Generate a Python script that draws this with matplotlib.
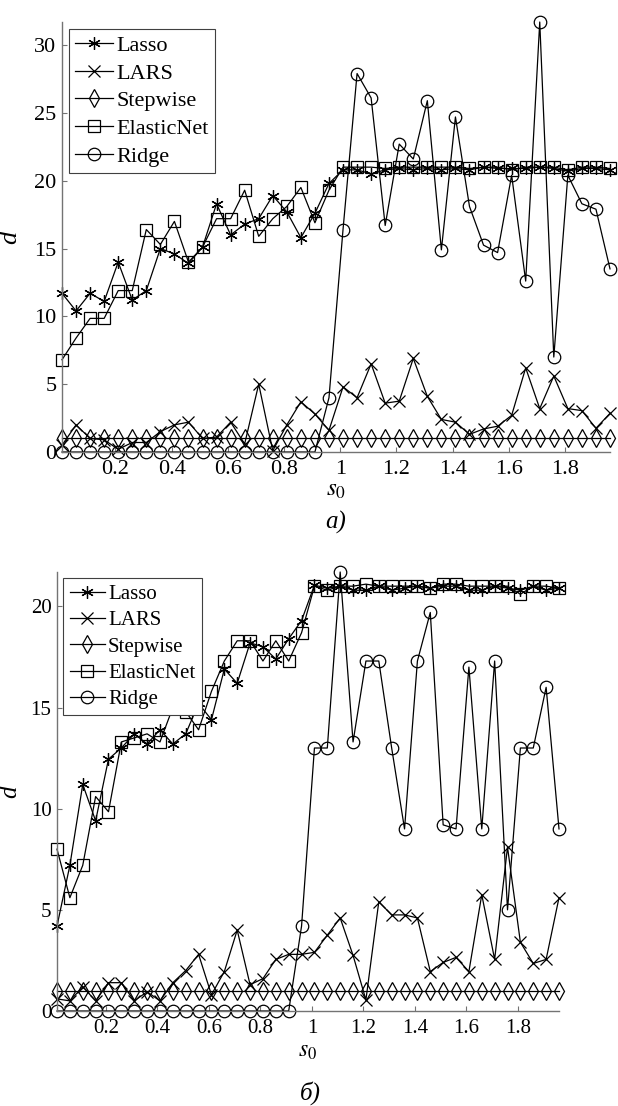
import numpy as np
import matplotlib
matplotlib.use("Agg")
import matplotlib.pyplot as plt

plt.rcParams['font.family'] = ['Liberation Serif', 'DejaVu Serif']
plt.rcParams['mathtext.fontset'] = 'stix'

# s0 grid: 0.01, 0.06, ..., 1.96
s0 = np.round(np.arange(0.01, 2.0, 0.05), 2)

names = ["Lasso", "LARS", "Stepwise", "ElasticNet", "Ridge"]

# panel a)
lasso_a = [11.7, 10.4, 11.7, 11.1, 14.0, 11.2, 11.9, 15.0, 14.6, 13.9,
           15.1, 18.3, 16.0, 16.8, 17.2, 18.9, 17.7, 15.8, 17.6, 19.8,
           20.8, 20.8, 20.5, 20.8, 20.9, 20.8, 20.9, 20.8, 20.9, 20.8,
           21.0, 20.9, 20.9, 20.9, 21.0, 20.9, 20.7, 20.9, 20.9, 20.8]
lars_a = [0.5, 2.0, 1.0, 0.9, 0.2, 0.7, 0.7, 1.5, 2.0, 2.2,
          1.0, 1.1, 2.2, 0.6, 5.0, 0.1, 2.0, 3.7, 2.8, 1.6,
          4.8, 4.0, 6.5, 3.6, 3.75, 6.9, 4.1, 2.4, 2.2, 1.3,
          1.7, 1.9, 2.7, 6.2, 3.2, 5.6, 3.2, 3.05, 1.75, 2.85]
stepwise_a = [1, 1, 1, 1, 1, 1, 1, 1, 1, 1,
              1, 1, 1, 1, 1, 1, 1, 1, 1, 1,
              1, 1, 1, 1, 1, 1, 1, 1, 1, 1,
              1, 1, 1, 1, 1, 1, 1, 1, 1, 1]
elastic_a = [6.8, 8.4, 9.85, 9.85, 11.9, 11.9, 16.4, 15.3, 17.0, 14.0,
             15.1, 17.2, 17.2, 19.3, 15.9, 17.2, 18.1, 19.5, 16.9, 19.3,
             21.0, 21.0, 21.0, 20.9, 21.0, 21.0, 21.0, 21.0, 21.0, 20.9,
             21.0, 21.0, 20.8, 21.0, 21.0, 21.0, 20.8, 21.0, 21.0, 20.9]
ridge_a = [0, 0, 0, 0, 0, 0, 0, 0, 0, 0,
           0, 0, 0, 0, 0, 0, 0, 0, 0, 4.0,
           16.4, 27.9, 26.1, 16.7, 22.7, 21.6, 25.9, 14.9, 24.7, 18.1,
           15.25, 14.7, 20.4, 12.6, 31.7, 7.0, 20.4, 18.3, 17.9, 13.5]

# panel б)
lasso_b = [4.2, 7.2, 11.2, 9.4, 12.45, 13.0, 13.7, 13.2, 13.9, 13.2,
           13.7, 15.2, 14.4, 16.9, 16.2, 18.2, 18.0, 17.4, 18.4, 19.3,
           21.05, 20.9, 21.0, 20.8, 20.8, 21.0, 20.8, 20.9, 21.0, 20.9,
           21.0, 21.0, 20.8, 20.8, 21.0, 20.9, 20.8, 21.0, 20.8, 20.9]
lars_b = [0.6, 0.5, 1.2, 0.5, 1.4, 1.4, 0.5, 0.95, 0.5, 1.4,
          2.0, 2.8, 0.8, 1.95, 4.0, 1.3, 1.6, 2.55, 2.8, 2.8,
          2.9, 3.75, 4.6, 2.75, 0.55, 5.4, 4.75, 4.75, 4.6, 1.95,
          2.4, 2.65, 1.95, 5.75, 2.55, 8.1, 3.4, 2.35, 2.55, 5.6]
stepwise_b = [1, 1, 1, 1, 1, 1, 1, 1, 1, 1,
              1, 1, 1, 1, 1, 1, 1, 1, 1, 1,
              1, 1, 1, 1, 1, 1, 1, 1, 1, 1,
              1, 1, 1, 1, 1, 1, 1, 1, 1, 1]
elastic_b = [8.0, 5.6, 7.2, 10.6, 9.85, 13.3, 13.5, 13.7, 13.3, 15.0,
             14.8, 13.9, 15.8, 17.3, 18.3, 18.3, 17.3, 18.3, 17.3, 18.7,
             21.0, 20.8, 21.0, 21.0, 21.1, 21.0, 21.0, 21.0, 21.0, 20.9,
             21.1, 21.1, 21.0, 21.0, 21.0, 21.0, 20.6, 21.0, 21.0, 20.9]
ridge_b = [0, 0, 0, 0, 0, 0, 0, 0, 0, 0,
           0, 0, 0, 0, 0, 0, 0, 0, 0, 4.2,
           13.0, 13.0, 21.7, 13.3, 17.3, 17.3, 13.0, 9.0, 17.3, 19.7,
           9.2, 9.0, 17.0, 9.0, 17.3, 5.0, 13.0, 13.0, 16.0, 9.0]

xticks = [0.2, 0.4, 0.6, 0.8, 1.0, 1.2, 1.4, 1.6, 1.8]
xtick_labels = ["0.2", "0.4", "0.6", "0.8", "1", "1.2", "1.4", "1.6", "1.8"]
yticks_a = [0, 5, 10, 15, 20, 25, 30]
yticks_b = [0, 5, 10, 15, 20]

# marker style and size for each method
styles = [((6, 2, 0), 9), ('x', 8), ('d', 9), ('s', 8.5), ('o', 9)]


def draw_panel(ax, series, yticks, fs):
	for (mk, ms), y, name in zip(styles, series, names):
		ax.plot(s0, y, color='black', lw=0.9, marker=mk, ms=ms,
				mfc='none', mec='black', mew=0.9, label=name, clip_on=False)

	ax.set_xlim(s0[0], s0[-1])
	ax.set_ylim(0, max(max(y) for y in series))
	ax.set_xticks(xticks)
	ax.set_xticklabels(xtick_labels)
	ax.set_yticks(yticks)

	for side in ['top', 'right']:
		ax.spines[side].set_visible(False)
	for side in ['left', 'bottom']:
		ax.spines[side].set_color('0.45')
		ax.spines[side].set_linewidth(1.0)
	ax.tick_params(direction='in', length=3.5, width=0.8, color='0.45',
				   labelsize=fs, pad=4)
	ax.tick_params(axis='x', pad=6)

	ax.set_xlabel(r'$s_0$', fontsize=fs + 2)
	ax.set_ylabel('d', fontsize=fs + 3, style='italic')

	leg = ax.legend(loc='upper left', fontsize=fs, handlelength=1.7,
					handletextpad=0.15, labelspacing=0.32, borderpad=0.3,
					borderaxespad=0.3, fancybox=False, framealpha=1)
	leg.get_frame().set_edgecolor('0.25')
	leg.get_frame().set_linewidth(0.8)


fig = plt.figure(figsize=(6.18, 11.06), dpi=100)

ax1 = fig.add_axes([62 / 618, 1 - 452 / 1106, 548 / 618, 430 / 1106])
draw_panel(ax1, [lasso_a, lars_a, stepwise_a, elastic_a, ridge_a], yticks_a, 16)
ax1.xaxis.set_label_coords(0.5, -0.062)
ax1.yaxis.set_label_coords(-0.074, 0.5)

ax2 = fig.add_axes([57 / 618, 1 - 1011 / 1106, 502 / 618, 439 / 1106])
draw_panel(ax2, [lasso_b, lars_b, stepwise_b, elastic_b, ridge_b], yticks_b, 15)
ax2.xaxis.set_label_coords(0.5, -0.068)
ax2.yaxis.set_label_coords(-0.072, 0.5)

fig.text(336 / 618, 1 - 522 / 1106, 'а)', fontsize=18, style='italic',
		 ha='center', va='center')
fig.text(310 / 618, 1 - 1093 / 1106, 'б)', fontsize=18, style='italic',
		 ha='center', va='center')

fig.savefig('out.png', dpi=100)
